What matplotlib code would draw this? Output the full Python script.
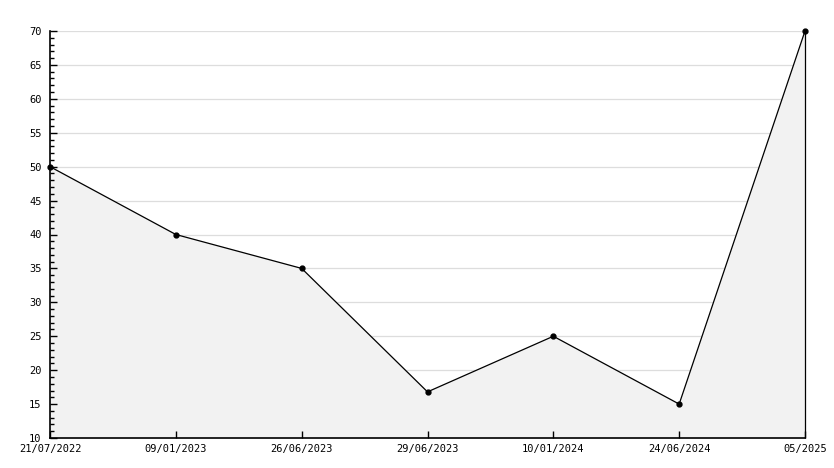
import matplotlib
matplotlib.use('Agg')
import matplotlib.pyplot as plt
from matplotlib.ticker import MultipleLocator

labels = ['21/07/2022', '09/01/2023', '26/06/2023', '29/06/2023',
          '10/01/2024', '24/06/2024', '05/2025']
values = [50, 40, 35, 16.8, 25, 15, 70]

plt.rcParams['font.family'] = ['DejaVu Sans Mono']
plt.rcParams['font.size'] = 7.5

fig = plt.figure(figsize=(8.34, 4.68), dpi=100)
ax = fig.add_axes([50 / 834, 1 - 438 / 468, 755 / 834, 407 / 468])

x = list(range(len(values)))
ax.set_xlim(0, len(values) - 1)
ax.set_ylim(10, 70)
ax.yaxis.set_major_locator(MultipleLocator(5))
ax.yaxis.set_minor_locator(MultipleLocator(1))

# grid lines sit under the grey fill
for yv in range(15, 71, 5):
    ax.axhline(yv, color='#dddddd', lw=0.9, zorder=0.5)

ax.fill_between(x, values, 10, color='#f2f2f2', zorder=1)
ax.plot(x, values, color='black', lw=0.9, zorder=3)
ax.plot(x, values, 'o', color='black', ms=3.5, zorder=4, clip_on=False)
ax.vlines(x[-1], 10, values[-1], color='black', lw=0.9, zorder=3, clip_on=False)

ax.set_xticks(x)
ax.set_xticklabels(labels)
ax.set_axisbelow(False)
ax.tick_params(axis='both', which='major', direction='in', length=5, width=1, colors='black')
ax.tick_params(axis='y', which='minor', direction='in', length=3, width=1)
ax.tick_params(axis='x', pad=4)
ax.tick_params(axis='y', pad=6)

for s in ['top', 'right']:
    ax.spines[s].set_visible(False)
for s in ['left', 'bottom']:
    ax.spines[s].set_linewidth(1.2)

fig.savefig('out.png', dpi=100, facecolor='white')
